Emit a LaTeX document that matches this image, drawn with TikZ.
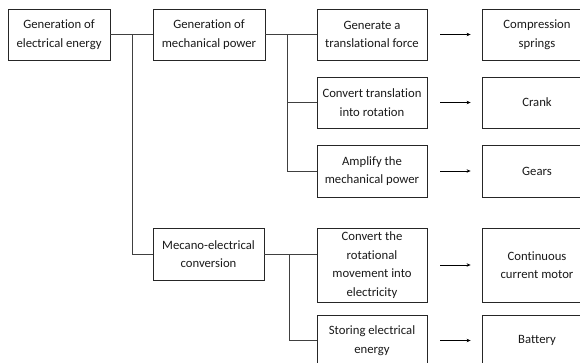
\documentclass[tikz,border=0pt]{standalone}
\usepackage{fontspec}
\setmainfont{Carlito}[Ligatures=CommonOff]
\usetikzlibrary{arrows.meta}
\begin{document}
\begin{tikzpicture}[x=1pt,y=-1pt,
  box/.style={draw=black!85,line width=0.8pt,rectangle,align=center,inner sep=2pt,
    font=\fontsize{12.7}{18.5}\selectfont,text=black!90},
  w1/.style={box,minimum width=102pt,minimum height=51pt},
  w2/.style={box,minimum width=112pt,minimum height=51pt},
  w3/.style={box,minimum width=110pt,minimum height=51pt},
  conn/.style={draw=black!75,line width=0.8pt},
  arr/.style={draw=black,line width=0.8pt,-{Stealth[length=4pt,width=3.5pt]}}]
\useasboundingbox (0,0) rectangle (580,362);
\clip (0,0) rectangle (580,362);
\node[w1] (gen) at (59,34.5) {Generation of\\electrical energy};
\node[w2] (mech) at (209,34.5) {Generation of\\mechanical power};
\node[w2,minimum width=111pt,minimum height=52pt] (mec) at (208.5,254) {Mecano-electrical\\conversion};
\node[w3] (a3) at (372,34.5) {Generate a\\translational force};
\node[w3] (b3) at (372,102.5) {Convert translation\\into rotation};
\node[w3,minimum height=52pt] (c3) at (372,171) {Amplify the\\mechanical power};
\node[w3,minimum height=74pt] (d3) at (372,265) {Convert the\\rotational\\movement into\\electricity};
\node[w3] (e3) at (372,340.5) {Storing electrical\\energy};
\node[w3] (a4) at (537,34.5) {Compression\\springs};
\node[w3] (b4) at (537,102.5) {Crank};
\node[w3,minimum height=52pt] (c4) at (537,171) {Gears};
\node[w3,minimum height=74pt] (d4) at (537,265) {Continuous\\current motor};
\node[w3] (e4) at (537,340.5) {Battery};
% connectors
\coordinate (j1) at (132,34.5);
\coordinate (j2) at (287,34.5);
\coordinate (j3) at (289,254);
\draw[conn] (gen.east) -- (mech.west);
\draw[conn] (j1) |- (mec.west);
\draw[conn] (mech.east) -- (a3.west);
\draw[conn] (j2) |- (b3.west);
\draw[conn] (j2) |- (c3.west);
\draw[conn] (mec.east) -- (mec.east -| d3.west);
\draw[conn] (j3) |- (e3.west);
\foreach \n in {a,b,c,d,e}{
  \draw[arr] ([xshift=13pt]\n3.east) -- ([xshift=-11pt]\n4.west);
}
\end{tikzpicture}
\end{document}
